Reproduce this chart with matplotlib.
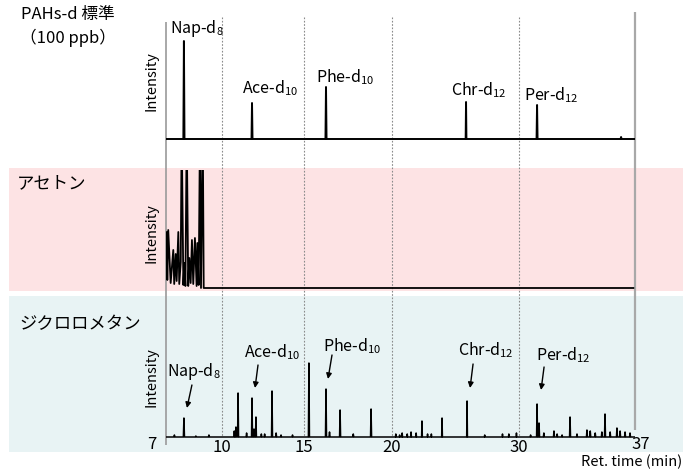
import numpy as np
import matplotlib
matplotlib.use('Agg')
import matplotlib.pyplot as plt
from matplotlib.patches import Rectangle
import matplotlib.transforms as mtransforms

plt.rcParams['font.family'] = ['Noto Sans CJK JP', 'DejaVu Sans']
plt.rcParams['mathtext.default'] = 'regular'

# ---------------- data ----------------
tick_values = [7, 10, 15, 20, 30, 37]

std_rt = [7.96, 11.83, 16.25, 25.83, 31.09, 36.16]
std_h = [98, 36, 52, 37, 34, 2]
std_names = ['Nap-d$_8$', 'Ace-d$_{10}$', 'Phe-d$_{10}$', 'Chr-d$_{12}$', 'Per-d$_{12}$']

acetone_t = [7.00, 7.04, 7.07, 7.12, 7.25, 7.39, 7.44, 7.52, 7.57, 7.66, 7.71,
             7.79, 7.84, 7.93, 7.98, 8.04, 8.11, 8.19, 8.25, 8.32, 8.39, 8.46,
             8.55, 8.64, 8.68, 8.75, 8.82, 8.875, 8.97, 9.02, 36.9]
acetone_i = [30, 56, 8, 58, 5, 38, 4, 34, 7, 56, 4,
             26, 160, 3, 25, 2, 160, 2, 30, 5, 48, 4,
             50, 2, 45, 3, 160, 0, 160, 0, 0]

dcm_rt = [7.45, 7.96, 8.6, 9.3, 10.75, 10.85, 10.98, 11.5, 11.83, 11.95, 12.07,
          12.4, 12.6, 13.05, 13.3, 13.6, 14.3, 15.28, 16.25, 16.45, 17.05, 17.8,
          18.81, 20.3, 20.6, 20.8, 21.2, 21.5, 21.9, 22.36, 22.8, 23.1, 23.94,
          25.91, 27.3, 28.7, 29.2, 29.8, 30.7, 31.09, 31.21, 31.5, 32.11, 32.3,
          32.6, 33.08, 33.5, 34.1, 34.3, 34.6, 35.0, 35.19, 35.5, 35.91, 36.1,
          36.4, 36.7]
dcm_h = [2, 19, 1, 2, 6, 10, 44, 4, 39, 8, 20,
         3, 3, 46, 4, 2, 2, 74, 48, 5, 27, 3,
         28, 3, 2, 4, 3, 5, 4, 16, 3, 3, 19,
         36, 2, 3, 3, 4, 2, 33, 14, 4, 6, 3,
         2, 20, 3, 7, 6, 4, 5, 23, 5, 9, 6,
         5, 4]

dcm_marked_names = ['Nap-d$_8$', 'Ace-d$_{10}$', 'Phe-d$_{10}$', 'Chr-d$_{12}$', 'Per-d$_{12}$']
dcm_marked_rt = [7.96, 11.83, 16.25, 25.91, 31.09]
dcm_marked_h = [19, 39, 48, 36, 33]

# ---------------- layout ----------------
W, H = 683, 470
AXIS_FRAC = np.array([0, 56, 138, 226, 353, 469]) / 469.0
TV = np.array(tick_values, float)


def fwd(t):
    t = np.asarray(t, float)
    y = np.interp(t, TV, AXIS_FRAC)
    s0 = (AXIS_FRAC[1] - AXIS_FRAC[0]) / (TV[1] - TV[0])
    s1 = (AXIS_FRAC[-1] - AXIS_FRAC[-2]) / (TV[-1] - TV[-2])
    y = np.where(t < TV[0], AXIS_FRAC[0] + (t - TV[0]) * s0, y)
    y = np.where(t > TV[-1], AXIS_FRAC[-1] + (t - TV[-1]) * s1, y)
    return y


def inv(u):
    u = np.asarray(u, float)
    t = np.interp(u, AXIS_FRAC, TV)
    s0 = (TV[1] - TV[0]) / (AXIS_FRAC[1] - AXIS_FRAC[0])
    s1 = (TV[-1] - TV[-2]) / (AXIS_FRAC[-1] - AXIS_FRAC[-2])
    t = np.where(u < AXIS_FRAC[0], TV[0] + (u - AXIS_FRAC[0]) * s0, t)
    t = np.where(u > AXIS_FRAC[-1], TV[-1] + (u - AXIS_FRAC[-1]) * s1, t)
    return t


def rect(x0, ytop, x1, ybot):
    return [x0 / W, 1 - ybot / H, (x1 - x0) / W, (ybot - ytop) / H]


def trace(rt, h, t0=7.0, t1=37.0, w=0.03):
    xs, ys = [t0], [0]
    for t, v in sorted(zip(rt, h)):
        xs += [t - w, t, t + w]
        ys += [0, v, 0]
    xs.append(t1)
    ys.append(0)
    return xs, ys


fig = plt.figure(figsize=(W / 100, H / 100), dpi=100)

# backgrounds
fig.patches.append(Rectangle((9 / W, 1 - 291 / H), 1 - 9 / W, (291 - 168) / H,
                             transform=fig.transFigure, facecolor='#fde3e4',
                             edgecolor='none', zorder=-5))
fig.patches.append(Rectangle((9 / W, 1 - 452 / H), 1 - 9 / W, (452 - 296) / H,
                             transform=fig.transFigure, facecolor='#e8f3f4',
                             edgecolor='none', zorder=-5))

# overlay axes for grid lines
ov = fig.add_axes(rect(166, 0, 635, 470))
ov.set_xscale('function', functions=(fwd, inv))
ov.set_xlim(7, 37)
ov.set_ylim(470, 0)
ov.axis('off')
ov.patch.set_alpha(0)
for v in [10, 15, 20, 30]:
    ov.vlines(v, 17, 437, colors='#8a8a8a', lw=0.8, linestyles=(0, (1.5, 1.5)))
ov.vlines(7, 22, 445, colors='#9a9a9a', lw=1.2, clip_on=False)
ov.vlines(37, 12, 430, colors='#a8a8a8', lw=1.6, clip_on=False)


def make_ax(ytop, ybot, ylim):
    ax = fig.add_axes(rect(166, ytop, 635, ybot))
    ax.set_xscale('function', functions=(fwd, inv))
    ax.set_xlim(7, 37)
    ax.set_ylim(*ylim)
    ax.patch.set_alpha(0)
    for s in ax.spines.values():
        s.set_visible(False)
    ax.set_yticks([])
    ax.set_xticks([])
    return ax


# top: standard
ax1 = make_ax(17, 160, (-21, 122))
x, y = trace(std_rt, std_h)
ax1.plot(x, y, color='black', lw=1.4)
offs = [(13, 13), (18, 15), (19, 10), (13, 12), (14, 10)]
for name, t, h, o in zip(std_names, std_rt, std_h, offs):
    ax1.annotate(name, xy=(t, h), xytext=o, textcoords='offset pixels',
                 ha='center', va='center', fontsize=11.5)

# middle: acetone
ax2 = make_ax(170, 291, (-3, 118))
ax2.plot(acetone_t, acetone_i, color='black', lw=1.3)

# bottom: dichloromethane
ax3 = make_ax(300, 440, (-3, 137))
x, y = trace(dcm_rt, dcm_h)
ax3.plot(x, y, color='black', lw=1.1)
txt_offs = [(10, 46), (20, 46), (26, 43), (19, 51), (26, 49)]
head_offs = [(3, 10), (3, 10), (2, 10), (3, 13), (4, 14)]
tail_offs = [(5, 23), (3, 23), (4, 24), (3, 24), (3, 23)]
for name, t, h, to, ho, tl in zip(dcm_marked_names, dcm_marked_rt, dcm_marked_h,
                                  txt_offs, head_offs, tail_offs):
    ax3.annotate(name, xy=(t, h), xytext=to, textcoords='offset pixels',
                 ha='center', va='center', fontsize=11.5)
    tr = mtransforms.offset_copy(ax3.transData, fig=fig, x=ho[0], y=ho[1], units='dots')
    ax3.annotate('', xy=(t, h), xycoords=tr, xytext=tl, textcoords='offset pixels',
                 arrowprops=dict(arrowstyle='-|>', color='black', lw=1.0,
                                 mutation_scale=8, shrinkA=0, shrinkB=0))

ax3.set_xticks(tick_values)
ax3.set_xticklabels([str(v) for v in tick_values], fontsize=12)
ax3.tick_params(axis='x', length=0, pad=-1)
labs = ax3.get_xticklabels()
labs[0].set_transform(labs[0].get_transform() +
                      mtransforms.ScaledTranslation(-0.14, 0.03, fig.dpi_scale_trans))
labs[-1].set_transform(labs[-1].get_transform() +
                       mtransforms.ScaledTranslation(0.06, 0.03, fig.dpi_scale_trans))


def ftext(x, y, s, **kw):
    fig.text(x / W, 1 - y / H, s, **kw)


ftext(68, 15, 'PAHs-d 標準', ha='center', va='center', fontsize=12)
ftext(68, 38, '（100 ppb）', ha='center', va='center', fontsize=12)
ftext(17, 183, 'アセトン', ha='left', va='center', fontsize=12.5)
ftext(19, 324, 'ジクロロメタン', ha='left', va='center', fontsize=12.5)
for yy in [81, 233, 377]:
    ftext(152, yy, 'Intensity', rotation=90, ha='center', va='center', fontsize=10.5)
ftext(682, 462, 'Ret. time (min)', ha='right', va='center', fontsize=10.5)

fig.savefig('out.png', dpi=100)
